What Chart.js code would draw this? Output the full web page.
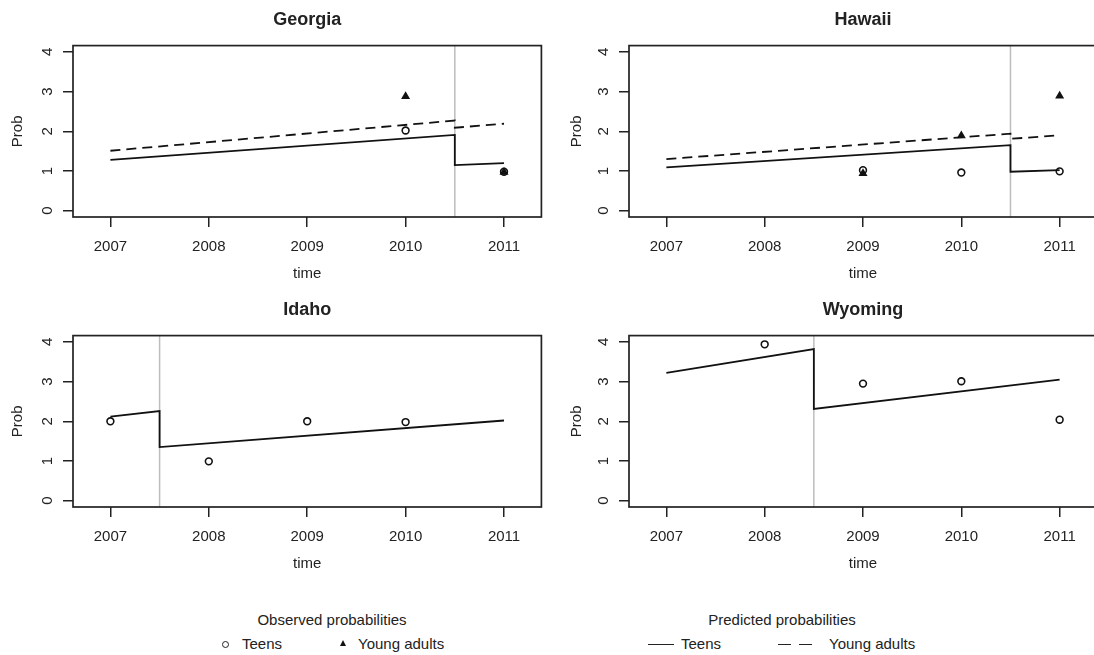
<!DOCTYPE html>
<html>
<head>
<meta charset="utf-8">
<script src="https://cdn.jsdelivr.net/npm/chart.js@4.4.0/dist/chart.umd.min.js"></script>
<style>
  body { margin: 0; background: #fff; }
  #wrap { position: relative; width: 1094px; height: 655px; overflow: hidden;
          font-family: "Liberation Sans", Arial, sans-serif; color: #222; }
  #wrap canvas { position: absolute; }
  .txt { position: absolute; font-size: 15px; line-height: 18px; white-space: nowrap; }
  .ctr { transform: translateX(-50%); }
  .circ { position: absolute; width: 7px; height: 7px; box-sizing: border-box;
          border: 1.5px solid #222; border-radius: 50%; }
  .tri { position: absolute; width: 0; height: 0; border-left: 3.5px solid transparent;
         border-right: 3.5px solid transparent; border-bottom: 6px solid #111; }
  .solid { position: absolute; height: 1.6px; background: #222; }
  .dash { position: absolute; height: 1.6px;
          background: repeating-linear-gradient(to right, #222 0 13px, transparent 13px 21px); }
</style>
</head>
<body>
<div id="wrap">
  <canvas id="c0" width="547" height="290" style="left:0;top:0"></canvas>
  <canvas id="c1" width="556" height="290" style="left:547px;top:0"></canvas>
  <canvas id="c2" width="547" height="290" style="left:0;top:290px"></canvas>
  <canvas id="c3" width="556" height="290" style="left:547px;top:290px"></canvas>

  <div class="txt ctr" style="left:332px;top:611px">Observed probabilities</div>
  <div class="circ" style="left:221.5px;top:640.5px"></div>
  <div class="txt" style="left:242px;top:635px">Teens</div>
  <div class="tri" style="left:339.5px;top:640px"></div>
  <div class="txt" style="left:358px;top:635px">Young adults</div>

  <div class="txt ctr" style="left:782px;top:611px">Predicted probabilities</div>
  <div class="solid" style="left:648px;top:643.5px;width:26px"></div>
  <div class="txt" style="left:681px;top:635px">Teens</div>
  <div class="dash" style="left:778px;top:643.5px;width:34px"></div>
  <div class="txt" style="left:829px;top:635px">Young adults</div>
</div>
<script>
const panelNames = ["Georgia", "Hawaii", "Idaho", "Wyoming"];
const years = [2007, 2008, 2009, 2010, 2011];
const probTicks = [0, 1, 2, 3, 4];
const cutYears = [2010.5, 2010.5, 2007.5, 2008.5];

// observed probabilities, one per year (null = nothing observed)
const obsTeens = [
  [null, null, null, 2.02, 0.98],
  [null, null, 1.02, 0.96, 0.99],
  [2.0, 0.99, 2.0, 1.98, null],
  [null, 3.94, 2.95, 3.01, 2.04],
];
const obsYoung = [
  [null, null, null, 2.88, 0.97],
  [null, null, 0.94, 1.89, 2.89],
  [null, null, null, null, null],
  [null, null, null, null, null],
];

// predicted probabilities, segment ends either side of the cut
const predTimes = [
  [2007, 2010.5, 2010.5, 2011],
  [2007, 2010.5, 2010.5, 2011],
  [2007, 2007.5, 2007.5, 2011],
  [2007, 2008.5, 2008.5, 2011],
];
const predTeens = [
  [1.28, 1.91, 1.15, 1.2],
  [1.09, 1.65, 0.98, 1.02],
  [2.12, 2.26, 1.35, 2.02],
  [3.22, 3.82, 2.31, 3.05],
];
const predYoung = [
  [1.51, 2.27, 2.09, 2.19],
  [1.3, 1.94, 1.81, 1.9],
  null,
  null,
];

const xLimits = [2006.62, 2011.38];
const yLimits = [-0.16, 4.16];

const ink = "#222";
const family = '"Liberation Sans", Arial, sans-serif';
Chart.defaults.font.family = family;
Chart.defaults.color = ink;

const toPoints = (xs, ys) =>
  xs.map((x, k) => ({ x: x, y: ys[k] })).filter(p => p.y !== null);

// grey cut line, box round the plot, and R-style upright y labels
const frame = {
  id: "frame",
  beforeDatasetsDraw(chart, args, opts) {
    const { ctx, chartArea: a, scales } = chart;
    const px = scales.x.getPixelForValue(opts.cut);
    ctx.save();
    ctx.strokeStyle = "#bdbdbd";
    ctx.lineWidth = 1.5;
    ctx.beginPath();
    ctx.moveTo(px, a.top);
    ctx.lineTo(px, a.bottom);
    ctx.stroke();
    ctx.restore();
  },
  afterDraw(chart) {
    const { ctx, chartArea: a, scales } = chart;
    ctx.save();
    ctx.strokeStyle = ink;
    ctx.lineWidth = 1.7;
    ctx.strokeRect(a.left, a.top, a.right - a.left, a.bottom - a.top);
    ctx.fillStyle = ink;
    ctx.font = "15px " + family;
    ctx.textAlign = "center";
    ctx.textBaseline = "middle";
    probTicks.forEach(v => {
      ctx.save();
      ctx.translate(a.left - 25.5, scales.y.getPixelForValue(v));
      ctx.rotate(-Math.PI / 2);
      ctx.fillText(String(v), 0, 0);
      ctx.restore();
    });
    ctx.restore();
  },
};

function makePanel(i) {
  const right = i % 2 === 1;
  const datasets = [
    {
      data: toPoints(predTimes[i], predTeens[i]),
      showLine: true, borderColor: "#111", borderWidth: 1.8,
      pointRadius: 0,
    },
  ];
  if (predYoung[i]) {
    datasets.push({
      data: toPoints(predTimes[i], predYoung[i]),
      showLine: true, borderColor: "#111", borderWidth: 1.8,
      borderDash: [10, 6], pointRadius: 0,
    });
  }
  datasets.push({
    data: toPoints(years, obsTeens[i]),
    pointStyle: "circle", pointRadius: 3.4, borderWidth: 1.6,
    borderColor: "#111", backgroundColor: "rgba(0,0,0,0)",
  });
  datasets.push({
    data: toPoints(years, obsYoung[i]),
    pointStyle: "triangle", pointRadius: 5.2, borderWidth: 0,
    backgroundColor: "#111",
  });

  const tickFont = { size: 15 };
  new Chart(document.getElementById("c" + i), {
    type: "scatter",
    data: { datasets: datasets },
    plugins: [frame],
    options: {
      responsive: false,
      animation: false,
      events: [],
      layout: { padding: { left: 0, right: right ? 6 : 4, top: 0, bottom: 0 } },
      plugins: {
        legend: { display: false },
        tooltip: { enabled: false },
        frame: { cut: cutYears[i] },
        title: {
          display: true, text: panelNames[i], fullSize: false,
          font: { size: 18, weight: "bold" }, color: ink,
          padding: { top: 9, bottom: 15 },
        },
      },
      scales: {
        x: {
          type: "linear", min: xLimits[0], max: xLimits[1],
          afterBuildTicks: s => { s.ticks = years.map(v => ({ value: v })); },
          afterFit: s => { s.height = 73; },
          ticks: {
            font: tickFont, color: ink, padding: 11, autoSkip: false,
            minRotation: 0, maxRotation: 0, callback: v => String(v),
          },
          grid: { drawOnChartArea: false, tickLength: 10, color: ink, lineWidth: 1.5 },
          border: { display: false },
          title: { display: true, text: "time", font: tickFont, color: ink, padding: { top: 0, bottom: 7 } },
        },
        y: {
          type: "linear", min: yLimits[0], max: yLimits[1],
          afterBuildTicks: s => { s.ticks = probTicks.map(v => ({ value: v })); },
          afterFit: s => { s.width = right ? 82 : 73; },
          ticks: { display: false },
          grid: { drawOnChartArea: false, tickLength: 10, color: ink, lineWidth: 1.5 },
          border: { display: false },
          title: { display: true, text: "Prob", font: tickFont, color: ink, padding: { top: right ? 21 : 9, bottom: 0 } },
        },
      },
    },
  });
}

panelNames.forEach((n, i) => makePanel(i));
</script>
</body>
</html>
